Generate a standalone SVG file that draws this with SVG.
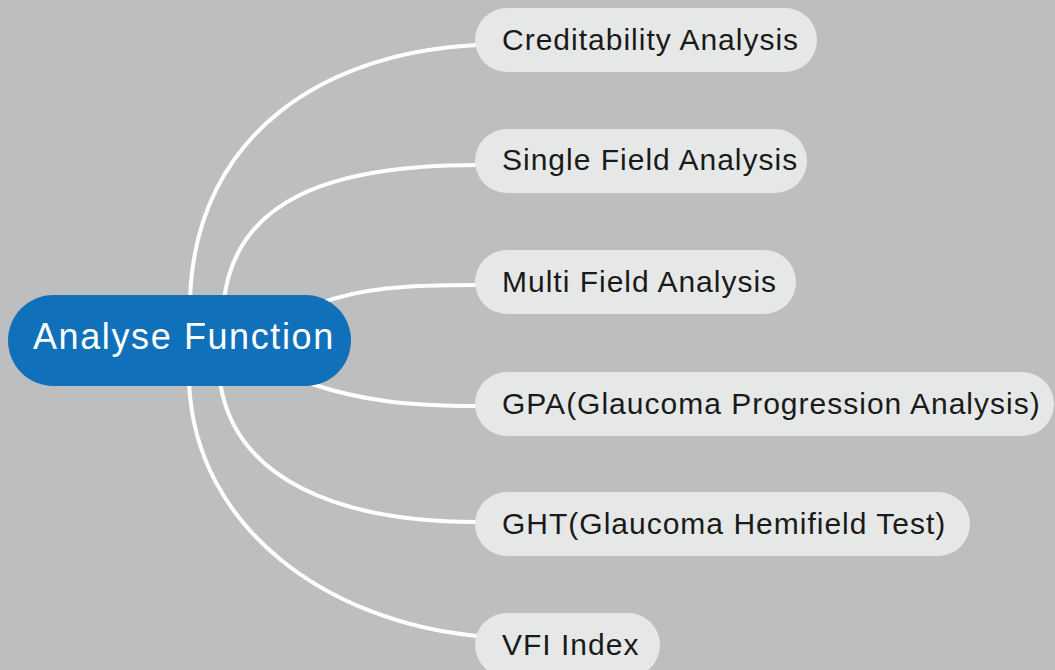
<svg xmlns="http://www.w3.org/2000/svg" width="1055" height="670" viewBox="0 0 1055 670">
<style>
.bg{fill:#BCBEBF}
.conn{fill:none;stroke:#FFFFFF;stroke-width:4;stroke-linecap:round}
.leaf rect{fill:#E6E8E8}
.leaf text{font-family:"Liberation Sans",Arial,sans-serif;font-size:30px;letter-spacing:1px;fill:#1A1A1A}
.root rect{fill:#1170BA}
.root text{font-family:"Liberation Sans",Arial,sans-serif;font-size:36px;letter-spacing:1.6px;fill:#FFFFFF}
</style>
<rect class="bg" x="0" y="0" width="1055" height="670"/>
<g id="connectors">
<path class="conn" d="M190,300 C195,130 330,52 477,45"/>
<path class="conn" d="M224,300 C236,200 330,165 477,165"/>
<path class="conn" d="M318,304 C360,288 405,285 477,285"/>
<path class="conn" d="M312,384 C360,400 405,406 477,406"/>
<path class="conn" d="M220,382 C235,480 340,522 477,522"/>
<path class="conn" d="M189,382 C195,530 330,622 477,636"/>
</g>
<g id="node-root" class="root">
<rect x="8" y="295" width="343" height="91" rx="45.5"/>
<text x="33" y="349">Analyse Function</text>
</g>
<g id="node-creditability" class="leaf">
<rect x="475" y="8" width="342" height="64" rx="32"/>
<text x="502" y="50">Creditability Analysis</text>
</g>
<g id="node-single" class="leaf">
<rect x="475" y="129" width="332" height="64" rx="32"/>
<text x="502" y="170">Single Field Analysis</text>
</g>
<g id="node-multi" class="leaf">
<rect x="475" y="250" width="321" height="64" rx="32"/>
<text x="502" y="292">Multi Field Analysis</text>
</g>
<g id="node-gpa" class="leaf">
<rect x="475" y="372" width="579" height="64" rx="32"/>
<text x="502" y="414">GPA(Glaucoma Progression Analysis)</text>
</g>
<g id="node-ght" class="leaf">
<rect x="475" y="492" width="495" height="64" rx="32"/>
<text x="502" y="534">GHT(Glaucoma Hemifield Test)</text>
</g>
<g id="node-vfi" class="leaf">
<rect x="475" y="613" width="185" height="64" rx="32"/>
<text x="502" y="655">VFI Index</text>
</g>
</svg>
